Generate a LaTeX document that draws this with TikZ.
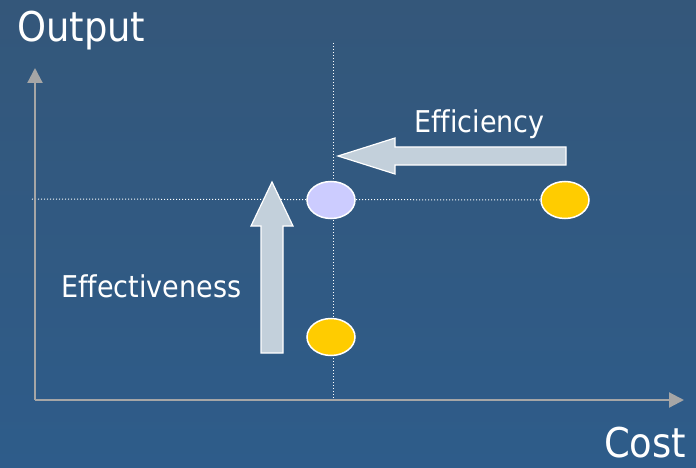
\documentclass[tikz,border=0pt]{standalone}
\usepackage{fontspec}
\setmainfont[Ligatures=NoCommon]{DejaVu Sans Condensed}
\usetikzlibrary{arrows.meta,shapes.geometric}
\definecolor{bgtop}{HTML}{34577A}
\definecolor{bgbot}{HTML}{2E5C8A}
\definecolor{axisgrey}{HTML}{A6A6A6}
\definecolor{blockfill}{HTML}{C3D0DB}
\definecolor{gold}{HTML}{FFCC00}
\definecolor{lav}{HTML}{CCCCFF}
\tikzset{
  axisline/.style={draw=axisgrey, line width=2.2pt, -{Triangle[length=15pt,width=15pt]}},
  guide/.style={draw=white, line width=1pt, dotted},
  blockarrow/.style={fill=blockfill, draw=white, line width=1.2pt, line join=miter},
  dot/.style={ellipse, draw=white, line width=1.5pt, minimum width=48pt, minimum height=37pt, inner sep=0pt},
  bigtext/.style={text=white, font=\fontsize{41}{41}\selectfont, inner sep=0pt, anchor=base west},
  midtext/.style={text=white, font=\fontsize{30}{30}\selectfont, inner sep=0pt, anchor=base west},
}
\begin{document}
\begin{tikzpicture}[x=1pt,y=-1pt]
\useasboundingbox (0,0) rectangle (696,468);
\shade[top color=bgtop, bottom color=bgbot] (0,0) rectangle (696,468);
% guides
\coordinate (vtop) at (333,43);
\coordinate (vbot) at (333,402);
\coordinate (hleft) at (32,199);
\coordinate (hright) at (541,200);
\draw[guide] (vtop) -- (vbot);
\draw[guide] (hleft) -- (hright);
% axes
\coordinate (origin) at (35,400);
\coordinate (ytip) at (35,68);
\coordinate (xtip) at (684,400);
\draw[axisline] (origin) -- (ytip);
\draw[axisline] (origin) -- (xtip);
% block arrows
\draw[blockarrow] (566,147) -- (395,147) -- (395,138) -- (338,156) -- (395,174) -- (395,165) -- (566,165) -- cycle;
\draw[blockarrow] (261,353) -- (261,226) -- (251,226) -- (272,182) -- (293,226) -- (283,226) -- (283,353) -- cycle;
% dots
\node[dot, fill=lav] (mid) at (331,200) {};
\node[dot, fill=gold] (right) at (565,200) {};
\node[dot, fill=gold] (low) at (331,337) {};
% labels
\node[bigtext] (output) at (17,42) {Output};
\node[bigtext] (cost) at (604,457) {Cost};
\node[midtext] (eff) at (414,133) {Ef\kern0ptf\kern0pticiency};
\node[midtext] (effect) at (61,297) {Ef\kern0ptfectiveness};
\end{tikzpicture}
\end{document}
